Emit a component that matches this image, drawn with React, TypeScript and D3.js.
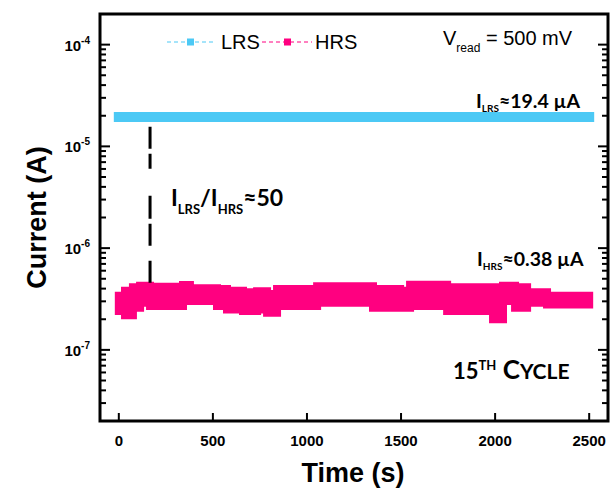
import React from "react";
import * as d3 from "d3";

// ---- data ----
const xTicks = [0, 500, 1000, 1500, 2000, 2500];
const yMajorExps = [-4, -5, -6, -7];
const yMinorMultipliers = [2, 3, 4, 5, 6, 7, 8, 9];

const lrsTime = [0, 500, 1000, 1500, 2000, 2500];
const lrsCurrent = [1.94e-5, 1.94e-5, 1.94e-5, 1.94e-5, 1.94e-5, 1.94e-5];

const hrsTime = [0, 33, 75, 113, 166, 341, 378, 522, 575, 660, 735, 751, 788, 841, 1054, 1351, 1495, 1548, 1745, 1989, 2042, 2088, 2106, 2170, 2276, 2500];
const hrsHigh = [3.41e-7, 3.82e-7, 4.12e-7, 4.27e-7, 4.18e-7, 4.34e-7, 4.03e-7, 3.97e-7, 3.82e-7, 3.68e-7, 3.76e-7, 3.76e-7, 3.54e-7, 3.97e-7, 4.21e-7, 3.97e-7, 3.82e-7, 4.37e-7, 4.12e-7, 4.12e-7, 4.27e-7, 4.27e-7, 4.12e-7, 3.68e-7, 3.41e-7, 3.41e-7];
const hrsLow = [2.41e-7, 2.19e-7, 2.6e-7, 2.91e-7, 2.7e-7, 3.38e-7, 3.02e-7, 2.7e-7, 2.5e-7, 2.41e-7, 3.14e-7, 2.5e-7, 2.32e-7, 2.7e-7, 2.91e-7, 2.6e-7, 2.6e-7, 2.7e-7, 2.41e-7, 2.0e-7, 3.02e-7, 3.65e-7, 2.6e-7, 2.91e-7, 2.8e-7, 2.8e-7];

const ratioLineTime = [166];
const ratioLineRange = [1.56e-5, 4.54e-7];

const LRS_COLOR = "#4cc9f5";
const HRS_COLOR = "#ff0080";

export default function App() {
  const left = 100, right = 608, top = 14, bottom = 421;
  const x = d3.scaleLinear().domain([-100, 2600]).range([left, right]);
  const y = d3.scaleLog().domain([2e-8, 2e-4]).range([bottom, top]);

  const hrsData = hrsTime.map((t, i) => ({ t, hi: hrsHigh[i], lo: hrsLow[i] }));
  const hrsArea = d3
    .area<{ t: number; hi: number; lo: number }>()
    .x((d) => x(d.t))
    .y0((d) => y(d.lo))
    .y1((d) => y(d.hi))
    .curve(d3.curveStepAfter);

  const lrsLine = d3
    .line<number>()
    .x((_, i) => x(lrsTime[i]))
    .y((d) => y(d));

  const axisFont = "'Liberation Sans', Arial, sans-serif";
  const annFont = "Lato, 'Open Sans', sans-serif";

  const minorVals: number[] = [];
  yMajorExps.concat([-8]).forEach((e) => {
    yMinorMultipliers.forEach((m) => {
      const v = m * Math.pow(10, e);
      const [d0, d1] = y.domain();
      if (v > d0 && v < d1) minorVals.push(v);
    });
  });

  return (
    <svg
      width={611}
      height={494}
      style={{ position: "absolute", left: 0, top: 0, display: "block", background: "#fff" }}
    >
      {/* LRS band */}
      <path
        d={lrsLine(lrsCurrent) || ""}
        fill="none"
        stroke={LRS_COLOR}
        strokeWidth={10}
        strokeLinecap="square"
      />
      {/* HRS band */}
      <path
        d={hrsArea(hrsData) || ""}
        fill={HRS_COLOR}
        stroke={HRS_COLOR}
        strokeWidth={8}
        strokeLinejoin="miter"
      />
      {/* ratio dashed line */}
      <line
        x1={x(ratioLineTime[0])}
        x2={x(ratioLineTime[0])}
        y1={y(ratioLineRange[0])}
        y2={y(ratioLineRange[1])}
        stroke="#000"
        strokeWidth={3}
        strokeDasharray="22 5 15 27 23 5 22 15"
      />

      {/* ticks */}
      {xTicks.map((t) => (
        <line key={"xt" + t} x1={x(t)} x2={x(t)} y1={bottom} y2={bottom - 8} stroke="#000" strokeWidth={2} />
      ))}
      {yMajorExps.map((e) => {
        const v = Math.pow(10, e);
        return (
          <g key={"ym" + e}>
            <line x1={left} x2={left + 10} y1={y(v)} y2={y(v)} stroke="#000" strokeWidth={2} />
            <line x1={right} x2={right - 10} y1={y(v)} y2={y(v)} stroke="#000" strokeWidth={2} />
          </g>
        );
      })}
      {minorVals.map((v, i) => (
        <g key={"yn" + i}>
          <line x1={left} x2={left + 6} y1={y(v)} y2={y(v)} stroke="#000" strokeWidth={2} />
          <line x1={right} x2={right - 6} y1={y(v)} y2={y(v)} stroke="#000" strokeWidth={2} />
        </g>
      ))}

      {/* frame */}
      <rect x={left} y={top} width={right - left} height={bottom - top} fill="none" stroke="#000" strokeWidth={3} />

      {/* tick labels */}
      {xTicks.map((t) => (
        <text
          key={"xl" + t}
          x={x(t)}
          y={446}
          textAnchor="middle"
          fontFamily={axisFont}
          fontWeight="bold"
          fontSize={15}
          fill="#000"
        >
          {t}
        </text>
      ))}
      {yMajorExps.map((e) => (
        <text
          key={"yl" + e}
          x={90}
          y={y(Math.pow(10, e)) + 6}
          textAnchor="end"
          fontFamily={axisFont}
          fontWeight="bold"
          fontSize={15}
          fill="#000"
        >
          10
          <tspan fontSize={10} dy={-7}>
            {e}
          </tspan>
        </text>
      ))}

      {/* axis titles */}
      <text
        x={353}
        y={482}
        textAnchor="middle"
        fontFamily={axisFont}
        fontWeight="bold"
        fontSize={27}
        fill="#000"
      >
        Time (s)
      </text>
      <text
        transform={`translate(46, ${(top + bottom) / 2}) rotate(-90)`}
        textAnchor="middle"
        fontFamily={axisFont}
        fontWeight="bold"
        fontSize={27}
        fill="#000"
      >
        Current (A)
      </text>

      {/* legend */}
      <g>
        <line x1={167} x2={213} y1={42} y2={42} stroke={LRS_COLOR} strokeWidth={1} strokeDasharray="4 3" />
        <rect x={187} y={38.5} width={7} height={7} fill={LRS_COLOR} />
        <text x={221} y={48.5} fontFamily={axisFont} fontSize={20} fill="#000">
          LRS
        </text>
        <line x1={262} x2={312} y1={42} y2={42} stroke={HRS_COLOR} strokeWidth={1} strokeDasharray="4 3" />
        <rect x={284} y={38.5} width={7} height={7} fill={HRS_COLOR} />
        <text x={315} y={48.5} fontFamily={axisFont} fontSize={20} fill="#000">
          HRS
        </text>
      </g>

      {/* Vread */}
      <text x={443} y={45} fontFamily={axisFont} fontSize={20} fill="#000">
        V
        <tspan fontSize={12} dy={7}>
          read
        </tspan>
        <tspan dy={-7}> = 500 mV</tspan>
      </text>

      {/* annotations */}
      <text x={476} y={108} fontFamily={annFont} fontWeight="bold" fontSize={19.5} fill="#000">
        I
        <tspan fontSize={10} dy={4}>
          LRS
        </tspan>
        <tspan dy={-4}>≈19.4 µA</tspan>
      </text>
      <text x={477} y={266} fontFamily={annFont} fontWeight="bold" fontSize={19.5} fill="#000">
        I
        <tspan fontSize={10} dy={4}>
          HRS
        </tspan>
        <tspan dy={-4}>≈0.38 µA</tspan>
      </text>
      <text x={171} y={206} fontFamily={annFont} fontWeight="bold" fontSize={23} fill="#000">
        I
        <tspan fontSize={13} dy={8}>
          LRS
        </tspan>
        <tspan dy={-8}>/I</tspan>
        <tspan fontSize={13} dy={8}>
          HRS
        </tspan>
        <tspan dy={-8}>≈50</tspan>
      </text>
      <text x={453} y={379} fontFamily={annFont} fontWeight="bold" fontSize={22} fill="#000">
        15
        <tspan fontSize={13} dy={-9}>
          TH
        </tspan>
        <tspan dy={9} fontSize={26}>
          {" C"}
        </tspan>
        <tspan fontSize={21}>YCLE</tspan>
      </text>
    </svg>
  );
}
